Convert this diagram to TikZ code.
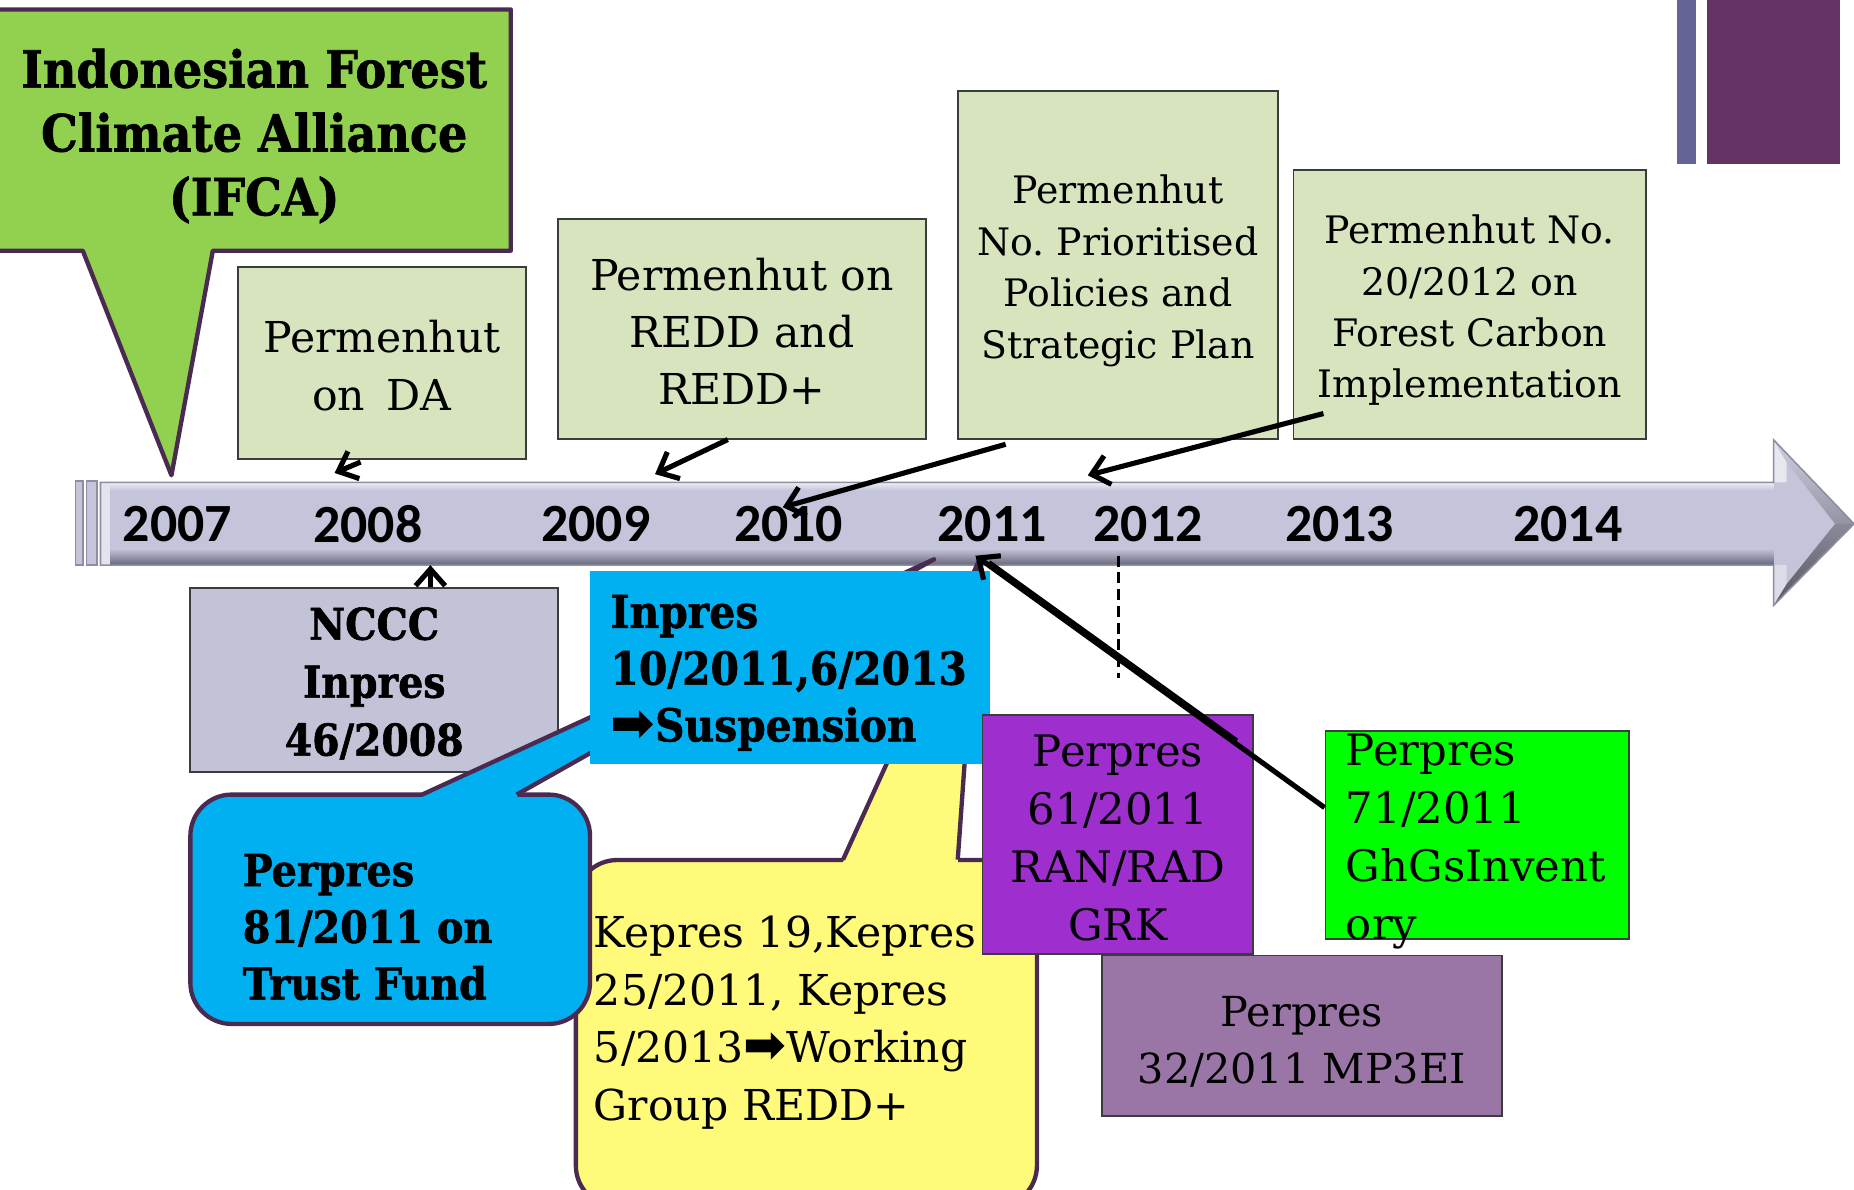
\documentclass[tikz,border=0pt]{standalone}
\usepackage{fontspec}
\setmainfont{DejaVu Serif}
\newfontfamily\slabfont{DejaVu Serif}[FakeStretch=0.9,BoldFeatures={FakeBold=1.3}]
\newfontfamily\yearfont{Carlito}
\newfontfamily\symfont{DejaVu Sans}
\usetikzlibrary{arrows.meta,calc}
\newcommand\setfs[2]{\fontsize{#1}{#2}\selectfont}
\definecolor{gfill}{HTML}{D7E4BD}
\definecolor{boxline}{HTML}{3C3C3C}
\definecolor{cobord}{HTML}{4B2A52}
\definecolor{ifcag}{HTML}{92D050}
\definecolor{tl}{HTML}{C4C4DA}
\definecolor{tldark}{HTML}{66667A}
\definecolor{tlline}{HTML}{8E8EA2}
\definecolor{nccc}{HTML}{C3C3D8}
\definecolor{cyanb}{HTML}{00B0F0}
\definecolor{yel}{HTML}{FFFA7A}
\definecolor{purp}{HTML}{9E2ECE}
\definecolor{lgreen}{HTML}{00FF00}
\definecolor{mauve}{HTML}{9A76A7}
\definecolor{decob}{HTML}{646496}
\definecolor{decop}{HTML}{643263}
\begin{document}
\begin{tikzpicture}[x=0.6pt,y=-0.6pt,
  gbox/.style={draw=boxline,line width=0.9pt,fill=gfill,align=center,inner sep=0pt},
  plainbox/.style={draw=boxline,line width=0.9pt,align=center,inner sep=0pt},
  arr/.style={line width=2.6pt,-{Straight Barb[length=8.5pt,width=15pt]}},
  yr/.style={font=\yearfont\bfseries\setfs{27.3}{30},inner sep=0pt},
  co/.style={draw=cobord,line width=2.2pt,line join=round},
  boldtxt/.style={font=\slabfont\bfseries,inner sep=0pt},
  regtxt/.style={inner sep=0pt}
]
\useasboundingbox (0,0) rectangle (1568,1006);

% decoration top right
\fill[decob] (1418,0) rectangle (1434,139);
\fill[decop] (1444,0) rectangle (1556,139);

% IFCA callout
\path[co,fill=ifcag] (-6,8) -- (432,8) -- (432,212) -- (180,212) -- (145,402) -- (70,212) -- (-6,212) -- cycle;
\node[boldtxt,align=center,font=\slabfont\bfseries\setfs{26}{32.4}] (ifca) at (215,115) {Indonesian Forest\\Climate Alliance\\(IFCA)};

% timeline
\fill[tl] (85,408) -- (1500,408) -- (1500,372) -- (1568,443) -- (1500,512) -- (1500,478) -- (85,478) -- cycle;
\shade[top color=tl,bottom color=tldark] (85,464) rectangle (1500,478);
\shade[top color=white!60!tl,bottom color=tl] (85,409) rectangle (1500,415);
\fill[white!55!tl] (85,408) rectangle (93,478);
% head bevel
\fill[white!60!tl] (1500,372) -- (1511,391) -- (1511,408) -- (1500,408) -- cycle;
\fill[white!40!tl] (1500,478) -- (1511,478) -- (1511,494) -- (1500,512) -- cycle;
\shade[top color=white!20!tl,bottom color=black!25!tl] (1500,372) -- (1568,443) -- (1552,443) -- (1511,391) -- cycle;
\shade[top color=black!30!tl,bottom color=black!55!tl] (1500,512) -- (1568,443) -- (1552,443) -- (1511,494) -- cycle;
\draw[tlline,line width=0.8pt,line join=miter] (85,408) -- (1500,408) -- (1500,372) -- (1568,443) -- (1500,512) -- (1500,478) -- (85,478) -- cycle;
% left end strips
\fill[tl] (64,407) rectangle (70,478);
\fill[tl] (73,407) rectangle (82,478);
\draw[tlline,line width=0.8pt] (64,407) rectangle (70,478);
\draw[tlline,line width=0.8pt] (73,407) rectangle (82,478);

% years
\node[yr] (y2007) at (150,443) {2007};
\node[yr] (y2008) at (311,443) {2008};
\node[yr] (y2009) at (504,443) {2009};
\node[yr] (y2010) at (667,443) {2010};
\node[yr] (y2011) at (839,443) {2011};
\node[yr] (y2012) at (971,443) {2012};
\node[yr] (y2013) at (1133,443) {2013};
\node[yr] (y2014) at (1326,443) {2014};

% arrow tip points on the timeline
\coordinate (t08a) at (283,400);
\coordinate (t08b) at (364,478);
\coordinate (t09) at (554,401);
\coordinate (t10) at (662,429);
\coordinate (t11) at (825,470);
\coordinate (t12) at (920,402);
\coordinate (tipblue) at (790,473);
\coordinate (tipyel) at (828,474);
\coordinate (d1) at (946,470);
\coordinate (d2) at (946,573);

% green boxes
\node[gbox,minimum width=146.4pt,minimum height=97.2pt] (b1) at (323,307) {};
\node[align=center,inner sep=0pt,font=\setfs{21.6}{29.4}] (b1t) at (323,309.5) {Permenhut\\on\enspace DA};
\node[gbox,minimum width=186.6pt,minimum height=111.6pt] (b2) at (627.5,278) {};
\node[align=center,inner sep=0pt,font=\setfs{21.6}{28.8}] (b2t) at (627.5,280) {Permenhut on\\REDD and\\REDD+};
\node[gbox,minimum width=162.6pt,minimum height=176.4pt] (b3) at (945.5,224) {};
\node[align=center,inner sep=0pt,font=\setfs{19.2}{26.1}] (b3t) at (945.5,229) {Permenhut\\No.\ Prioritised\\Policies and\\Strategic Plan};
\node[gbox,minimum width=178.8pt,minimum height=136.2pt] (b4) at (1243,257.5) {};
\node[align=center,inner sep=0pt,font=\setfs{19.2}{26.1}] (b4t) at (1243,262.5) {Permenhut No.\\20/2012 on\\Forest Carbon\\Implementation};

% yellow callout
\node[co,fill=yel,rounded corners=21pt,minimum width=234pt,minimum height=176pt,inner sep=0pt] (yrect) at (682,874) {};
\fill[yel] (713,729) -- (tipyel) -- (810,729) -- (810,737) -- (713,737) -- cycle;
\draw[co] (713,727) -- (tipyel) -- (810,727);
\node[regtxt,anchor=west,align=left,font=\setfs{21.6}{29.2}] (ytext) at (502,865) {Kepres 19,Kepres\\25/2011, Kepres\\5/2013{\symfont\bfseries\setfs{26}{29.2}➡}Working\\Group REDD+};

% NCCC box
\node[plainbox,fill=nccc,minimum width=186.6pt,minimum height=93.6pt] (nccc) at (316.5,575) {};
\node[boldtxt,align=center,font=\slabfont\bfseries\setfs{22.2}{29.4}] (nccct) at (316.5,578) {NCCC\\Inpres\\46/2008};

% blue callout
\node[co,fill=cyanb,rounded corners=21pt,minimum width=202.8pt,minimum height=116.4pt,inner sep=0pt] (brect) at (330,769) {};
\fill[cyanb] (357,674) -- (tipblue) -- (437,674) -- (437,682) -- (357,682) -- cycle;
\draw[co] (357,672) -- (tipblue) -- (437,672);
\node[boldtxt,anchor=west,align=left,font=\slabfont\bfseries\setfs{22.4}{28.8}] (btext) at (205,784) {Perpres\\81/2011 on\\Trust Fund};

% Inpres box
\node[fill=cyanb,minimum width=202.8pt,minimum height=97.8pt,inner sep=0pt] (inpres) at (668,564.5) {};
\node[boldtxt,anchor=west,align=left,font=\slabfont\bfseries\setfs{23}{28.8}] (itext) at (516,569) {Inpres\\10/2011,6/2013\\{\symfont\bfseries\setfs{27}{28.8}➡}Suspension};

% purple / green / mauve boxes
\node[plainbox,fill=purp,minimum width=137.4pt,minimum height=121.2pt] (p61) at (945.5,706) {};
\node[align=center,inner sep=0pt,font=\setfs{22}{29.4}] (p61t) at (945.5,709) {Perpres\\61/2011\\RAN/RAD\\GRK};
\node[plainbox,fill=mauve,minimum width=202.8pt,minimum height=81.6pt] (p32) at (1101,876) {};
\node[align=center,inner sep=0pt,font=\setfs{21}{28.8}] (p32t) at (1101,881) {Perpres\\32/2011 MP3EI};
\node[plainbox,fill=lgreen,minimum width=154.2pt,minimum height=105.6pt] (p71) at (1249.5,706) {};
\node[regtxt,anchor=west,align=left,font=\setfs{22}{29.4}] (p71text) at (1138,712) {Perpres\\71/2011\\GhGsInvent\\ory};

% dashed marker
\draw[line width=1.2pt,dash pattern=on 5.5pt off 3pt] (d1) -- (d2);

% arrows
\draw[arr] ($(b1.south)+(-18,2)$) -- (t08a);
\draw[arr] ($(b2.south)+(-12,0)$) -- (t09);
\draw[arr] ($(b3.south)+(-95,4)$) -- (t10);
\draw[arr] ($(b4.south west)+(26,-22)$) -- (t12);
\draw[arr] (nccc.north -| t08b) -- (t08b);
\coordinate (p71w) at ($(p71.west)+(0,-23)$);
\draw[arr] (p71w) -- (t11);
\coordinate (m1) at ($(p71w)!0.25!(t11)$);
\draw[line width=1.4pt] ($(m1)+(0,-4)$) -- ($(t11)+(12,5)$);
\end{tikzpicture}
\end{document}
